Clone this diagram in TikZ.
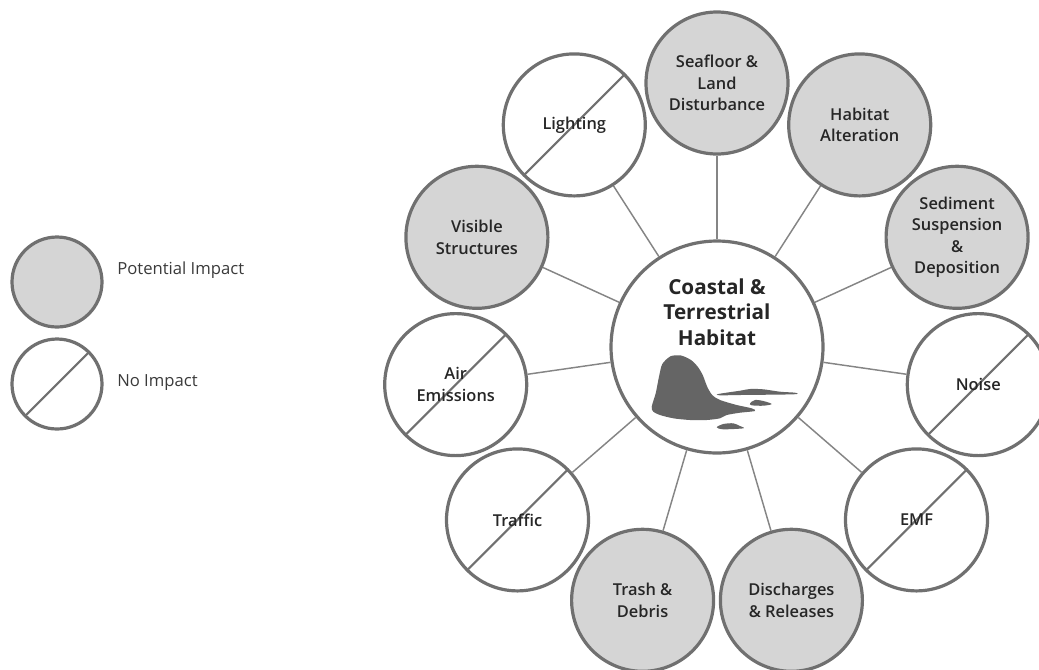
\documentclass[tikz,border=0pt]{standalone}
\usepackage{fontspec}
\setmainfont{Open Sans}
% a medium weight for the circle labels, where the family provides one
\IfFontExistsTF{Open Sans SemiBold}
  {\newfontfamily\labelfont{Open Sans SemiBold}}
  {\IfFontExistsTF{Open Sans Semibold}
    {\newfontfamily\labelfont{Open Sans Semibold}}
    {\newfontfamily\labelfont{Open Sans}}}
\definecolor{ringgray}{HTML}{707070}
\definecolor{fillgray}{HTML}{D5D5D5}
\definecolor{linkgray}{HTML}{858585}
\definecolor{inkdark}{HTML}{262626}
\definecolor{legendink}{HTML}{3A3A3A}
\definecolor{rockgray}{HTML}{656565}

\begin{document}
\begin{tikzpicture}[x=0.75pt,y=-0.75pt,
  impact/.style={circle, draw=ringgray, line width=2.4pt, fill=fillgray,
    minimum size=106.5pt, inner sep=0pt, align=center, text=inkdark,
    font=\labelfont\fontsize{12.3}{16}\selectfont},
  noimpact/.style={impact, fill=white,
    path picture={\draw[ringgray, line width=1.6pt]
      (path picture bounding box.south west) -- (path picture bounding box.north east);}},
  hub/.style={circle, draw=ringgray, line width=2.4pt, fill=white,
    minimum size=159pt, inner sep=0pt},
  link/.style={draw=linkgray, line width=1.1pt},
  legendlabel/.style={anchor=west, inner sep=0pt, text=legendink,
    font=\fontsize{12.5}{15}\selectfont},
  rock/.style={fill=rockgray, draw=none}
]
\useasboundingbox (0,0) rectangle (1039,669);

% central habitat circle
\node[hub] (hub) at (717,347) {};
\node[align=center, text=inkdark, font=\fontsize{15.5}{19}\selectfont\bfseries]
  (hubtitle) at (717,312) {Coastal \&\\Terrestrial\\Habitat};

% island silhouette: the headland with its low spit
\fill[rock] plot[smooth cycle, tension=0.45] coordinates {
  (651.7,406.7) (655.7,393.3) (659,376.7) (662.3,364) (670.7,356.2) (681,355.5)
  (691,360) (697.7,366.7) (702.7,375) (707.2,386.7) (712.2,395) (720,400)
  (736.7,405) (751.7,408.3) (755,411) (740,412.7) (726.7,415) (720,418.3)
  (706.7,420) (690,420) (673.3,418.3) (660,415) (653.3,411.7)};
% long flat island
\fill[rock] plot[smooth cycle, tension=0.5] coordinates {
  (718.3,394) (740,390.7) (750,389) (763.3,389.3) (780,391.7) (795,392.7)
  (793.3,394.3) (740,395) (720,395.3)};
% small islet
\fill[rock] plot[smooth cycle, tension=0.5] coordinates {
  (750,403.3) (755,400) (763.3,401) (771.7,404) (763.3,405.7) (751.7,405.3)};
% lower islet
\fill[rock] plot[smooth cycle, tension=0.5] coordinates {
  (716.7,427.3) (723.3,424) (733.3,423.3) (740,426) (743.3,428.3) (723.3,429.3)};

% surrounding stressor circles
\node[impact]   (seafloor)  at (717,83)      {Seafloor \&\\Land\\Disturbance};
\node[impact]   (alter)     at (859.7,124.9) {Habitat\\Alteration};
\node[impact]   (sediment)  at (957.1,237.3) {Sediment\\Suspension\\\&\\Deposition};
\node[noimpact] (noise)     at (978.3,384.6) {Noise};
\node[noimpact] (emf)       at (916.5,519.9) {EMF};
\node[impact]   (discharge) at (791.4,600.3) {Discharges\\\& Releases};
\node[impact]   (trash)     at (642.6,600.3) {Trash \&\\Debris};
\node[noimpact] (traffic)   at (517.5,519.9) {Traffic};
\node[noimpact] (air)       at (455.7,384.6) {Air\\Emissions};
\node[impact]   (visible)   at (476.9,237.3) {Visible\\Structures};
\node[noimpact] (lighting)  at (574.3,124.9) {Lighting};

% spokes
\foreach \n in {seafloor,alter,sediment,noise,emf,discharge,trash,traffic,air,visible,lighting}
  \draw[link] (hub) -- (\n);

% legend
\node[impact, minimum size=67.5pt]   (legimpact) at (57,282) {};
\node[noimpact, minimum size=67.5pt] (legnone)   at (57,384) {};
\node[legendlabel] (legimpacttext) at (117,270) {Potential Impact};
\node[legendlabel] (legnonetext)   at (117,383) {No Impact};
\end{tikzpicture}
\end{document}
